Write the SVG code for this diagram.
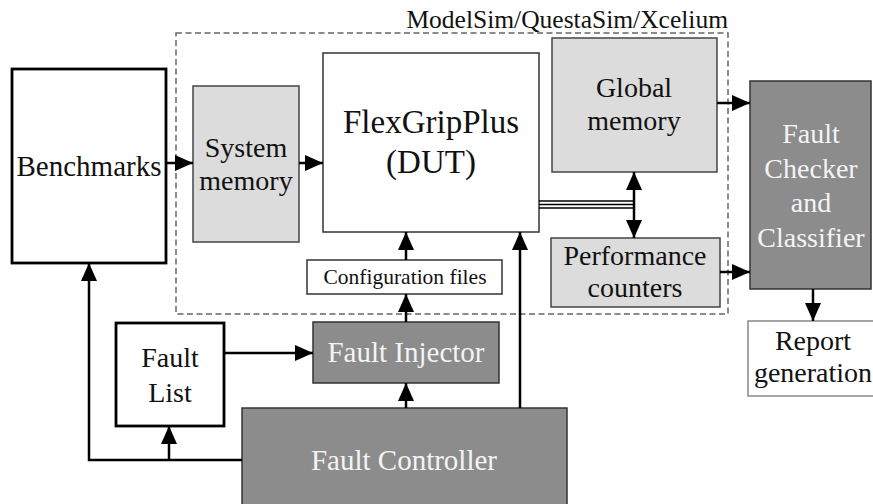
<svg xmlns="http://www.w3.org/2000/svg" width="873" height="504" viewBox="0 0 873 504">
<defs>
<marker id="ah" viewBox="0 0 18 16" refX="18" refY="8" markerWidth="18" markerHeight="16" markerUnits="userSpaceOnUse" orient="auto-start-reverse">
<polygon points="0,0 18,8 0,16" fill="#000"/>
</marker>
<style>
text{font-family:"Liberation Serif","Times New Roman",serif;text-anchor:middle;fill:#111}
.t28{font-size:28px}
.wt{fill:#f4f4f4}
.thick{fill:#fff;stroke:#000;stroke-width:2.8}
.thin{fill:#fff;stroke:#333;stroke-width:1.5}
.light{fill:#dcdcdc;stroke:#444;stroke-width:1.5}
.dark{fill:#8c8c8c;stroke:#333;stroke-width:1.5}
.c{fill:none;stroke:#000;stroke-width:2.5}
.dash{fill:none;stroke:#666;stroke-width:1.5;stroke-dasharray:6,3.5}
</style>
</defs>
<rect width="873" height="504" fill="#fff"/>

<g id="simulator">
<rect class="dash" x="176" y="33" width="552" height="281"/>
<text x="728" y="28" style="font-size:25.5px;text-anchor:end">ModelSim/QuestaSim/Xcelium</text>
</g>

<g id="benchmarks">
<rect class="thick" x="12" y="69" width="154" height="194"/>
<text class="t28" x="89" y="176" style="font-size:29px">Benchmarks</text>
</g>

<g id="system-memory">
<rect class="light" x="193" y="86" width="106" height="156"/>
<text class="t28" x="246" y="157">System</text>
<text class="t28" x="246" y="190">memory</text>
</g>

<g id="flexgripplus">
<rect class="thin" x="323" y="53" width="216" height="179"/>
<text x="431" y="133" style="font-size:33px">FlexGripPlus</text>
<text x="431" y="173" style="font-size:33px">(DUT)</text>
</g>

<g id="global-memory">
<rect class="light" x="552" y="38" width="165" height="134"/>
<text class="t28" x="634" y="97">Global</text>
<text class="t28" x="634" y="130">memory</text>
</g>

<g id="performance-counters">
<rect class="light" x="551" y="238" width="169" height="69"/>
<text class="t28" x="635" y="265">Performance</text>
<text class="t28" x="635" y="297">counters</text>
</g>

<g id="configuration-files">
<rect class="thin" x="307" y="260" width="195" height="34"/>
<text x="405" y="284" style="font-size:21.5px">Configuration files</text>
</g>

<g id="fault-checker">
<rect class="dark" x="750" y="81" width="121" height="208"/>
<text class="t28 wt" x="811" y="143">Fault</text>
<text class="t28 wt" x="811" y="178">Checker</text>
<text class="t28 wt" x="811" y="212">and</text>
<text class="t28 wt" x="811" y="247">Classifier</text>
</g>

<g id="report-generation">
<rect x="748" y="321" width="140" height="75" fill="#fff" stroke="#888" stroke-width="1.5"/>
<text class="t28" x="813" y="350">Report</text>
<text class="t28" x="813" y="382">generation</text>
</g>

<g id="fault-list">
<rect class="thick" x="116" y="323" width="108" height="103"/>
<text class="t28" x="170" y="367">Fault</text>
<text class="t28" x="170" y="402">List</text>
</g>

<g id="fault-injector">
<rect class="dark" x="313" y="322" width="186" height="61"/>
<text class="t28 wt" x="406" y="362" style="font-size:29px">Fault Injector</text>
</g>

<g id="fault-controller">
<rect class="dark" x="242" y="408" width="325" height="110"/>
<text class="t28 wt" x="404" y="470" style="font-size:29px">Fault Controller</text>
</g>

<g id="connectors">
<line class="c" x1="166" y1="163" x2="193" y2="163" marker-end="url(#ah)"/>
<line class="c" x1="299" y1="163" x2="323" y2="163" marker-end="url(#ah)"/>
<line class="c" x1="717" y1="103" x2="750" y2="103" marker-end="url(#ah)"/>
<line class="c" x1="720" y1="272" x2="750" y2="272" marker-end="url(#ah)"/>
<line class="c" x1="813" y1="289" x2="813" y2="321" marker-end="url(#ah)"/>
<line class="c" x1="634" y1="172" x2="634" y2="238" marker-start="url(#ah)" marker-end="url(#ah)"/>
<g stroke="#000" stroke-width="1.3">
<line x1="539" y1="201" x2="634" y2="201"/>
<line x1="539" y1="204.5" x2="634" y2="204.5"/>
<line x1="539" y1="208" x2="634" y2="208"/>
</g>
<line class="c" x1="406" y1="260" x2="406" y2="232" marker-end="url(#ah)"/>
<line class="c" x1="406" y1="322" x2="406" y2="294" marker-end="url(#ah)"/>
<line class="c" x1="406" y1="408" x2="406" y2="383" marker-end="url(#ah)"/>
<line class="c" x1="520" y1="408" x2="520" y2="232" marker-end="url(#ah)"/>
<line class="c" x1="224" y1="353" x2="313" y2="353" marker-end="url(#ah)"/>
<polyline class="c" points="242,460 89,460 89,263" marker-end="url(#ah)"/>
<line class="c" x1="169" y1="460" x2="169" y2="426" marker-end="url(#ah)"/>
</g>
</svg>
